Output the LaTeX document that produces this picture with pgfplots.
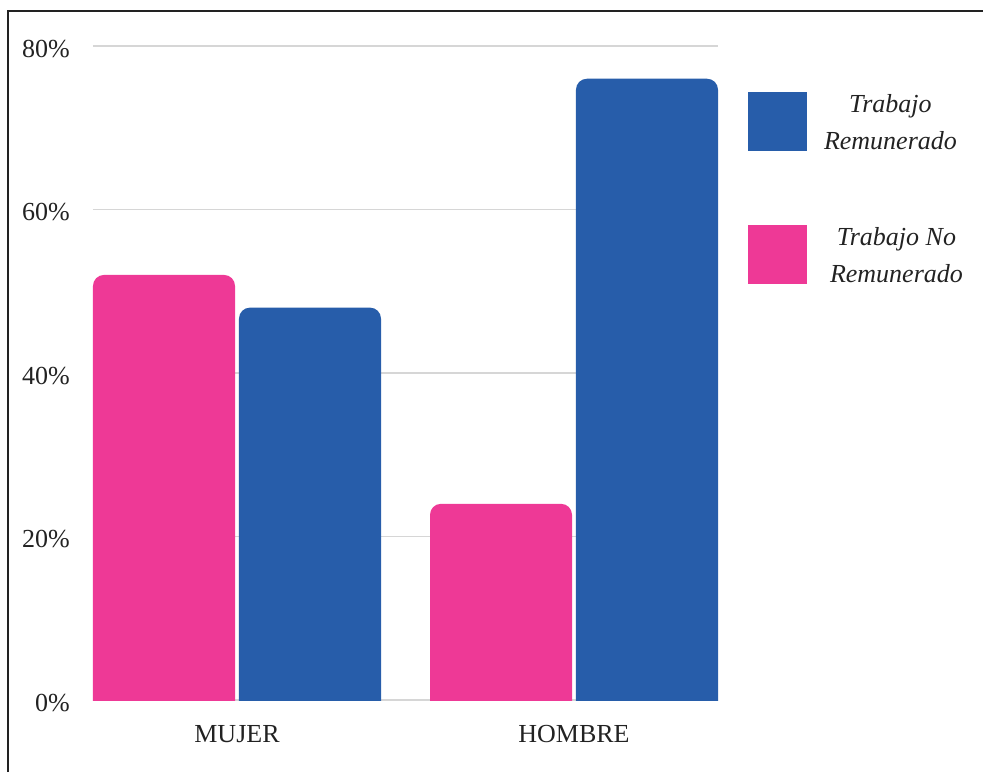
\documentclass[border=0pt]{standalone}
\usepackage{fontspec}
\setmainfont{Liberation Serif}
\usepackage{pgfplots}
\pgfplotsset{compat=1.18}
\definecolor{cpink}{RGB}{238,57,150}
\definecolor{cblue}{RGB}{39,93,170}
\definecolor{cgrid}{RGB}{214,214,214}
\definecolor{ctext}{RGB}{34,34,34}
\begin{document}
\begin{tikzpicture}
\useasboundingbox (-93pt,-72pt) rectangle (890pt,700pt);
\begin{axis}[
  scale only axis,
  width=625pt, height=654pt,
  xmin=-0.4273, xmax=1.4273,
  ymin=0, ymax=80,
  xtick={0,1}, xticklabels={MUJER,HOMBRE},
  ytick={0,20,40,60,80},
  yticklabels={0\%,20\%,40\%,60\%,80\%},
  major tick length=0pt,
  axis line style={draw=none},
  ymajorgrids,
  grid style={cgrid, line width=1.2pt},
  font=\fontsize{26}{31}\selectfont,
  every tick label/.append style={text=ctext},
  yticklabel style={anchor=east, inner sep=0pt, xshift=-23pt, yshift=-3pt},
  xticklabel style={anchor=base, inner sep=0pt, yshift=-42pt},
  legend style={at={(1,1)}, anchor=north west, xshift=30pt, yshift=-40.5pt,
    draw=none, fill=none, inner sep=0pt, outer sep=0pt,
    font=\fontsize{26}{37}\selectfont\itshape, text=ctext,
    nodes={inner sep=0pt}, row sep=69pt, column sep=17pt},
  legend cell align=left,
  legend image code/.code={\fill[#1, sharp corners] (0pt,-42pt) rectangle (59pt,17pt);},
]
% MUJER: Trabajo Remunerado 48
\addplot[fill=cblue, draw=none, rounded corners=11pt] coordinates {(0.0059,-5) (0.0059,48) (0.4273,48) (0.4273,-5)} -- cycle;
\addlegendentry{\begin{tabular}{@{}c@{}}Trabajo\\Remunerado\end{tabular}}
% MUJER: Trabajo No Remunerado 52
\addplot[fill=cpink, draw=none, rounded corners=11pt] coordinates {(-0.4273,-5) (-0.4273,52) (-0.0059,52) (-0.0059,-5)} -- cycle;
\addlegendentry{\hspace*{6pt}\begin{tabular}{@{}c@{}}Trabajo No\\Remunerado\end{tabular}}
% HOMBRE: Trabajo No Remunerado 24
\addplot[forget plot, fill=cpink, draw=none, rounded corners=11pt] coordinates {(0.5727,-5) (0.5727,24) (0.9941,24) (0.9941,-5)} -- cycle;
% HOMBRE: Trabajo Remunerado 76
\addplot[forget plot, fill=cblue, draw=none, rounded corners=11pt] coordinates {(1.0059,-5) (1.0059,76) (1.4273,76) (1.4273,-5)} -- cycle;
\end{axis}
\draw[line width=1.2pt, color=ctext] (-85pt,-72pt) -- (-85pt,689pt) -- (890pt,689pt);
\end{tikzpicture}
\end{document}
